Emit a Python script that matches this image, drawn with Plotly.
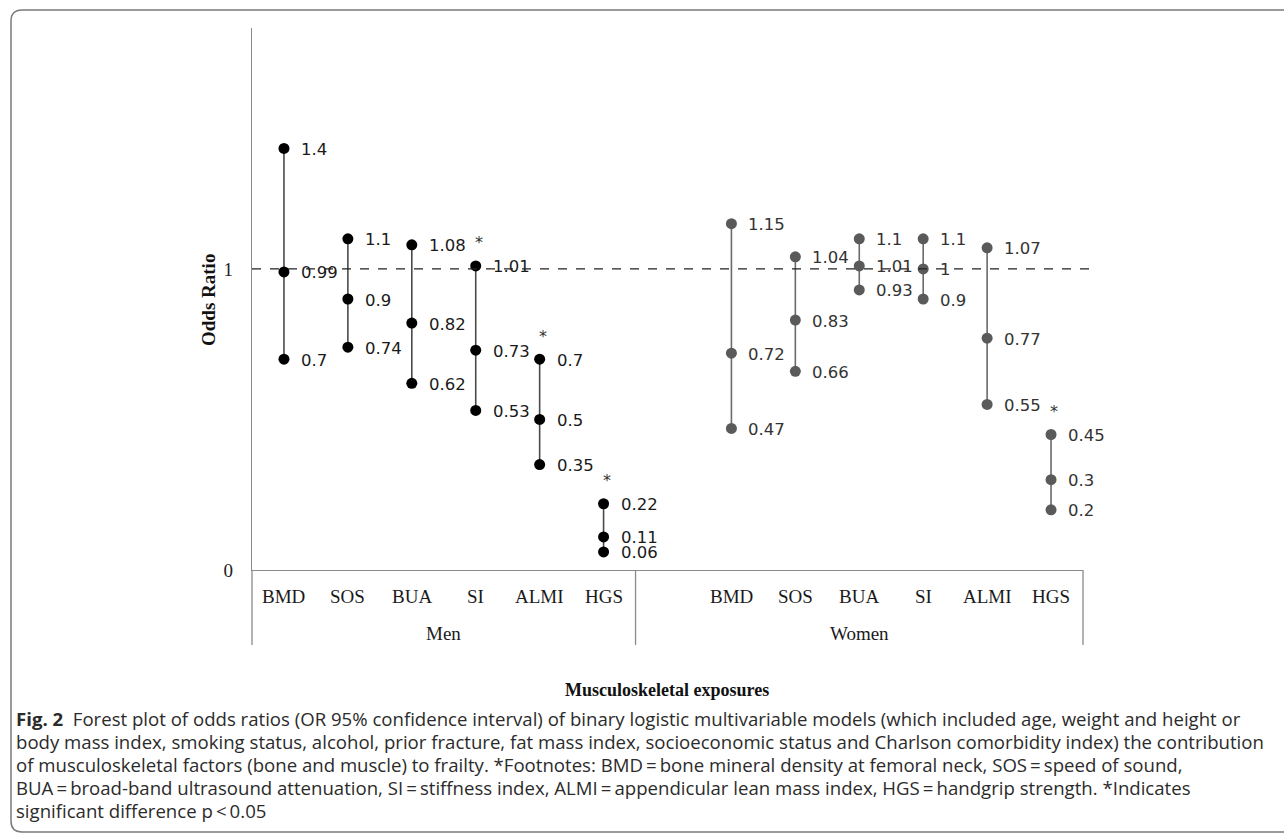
import plotly.graph_objects as go

# ---- data ----
categories = ["BMD", "SOS", "BUA", "SI", "ALMI", "HGS"]
groups = ["Men", "Women"]
men_upper = [1.4, 1.1, 1.08, 1.01, 0.7, 0.22]
men_or = [0.99, 0.9, 0.82, 0.73, 0.5, 0.11]
men_lower = [0.7, 0.74, 0.62, 0.53, 0.35, 0.06]
men_sig = [False, False, False, True, True, True]
women_upper = [1.15, 1.04, 1.1, 1.1, 1.07, 0.45]
women_or = [0.72, 0.83, 1.01, 1.0, 0.77, 0.3]
women_lower = [0.47, 0.66, 0.93, 0.9, 0.55, 0.2]
women_sig = [False, False, False, False, False, True]
y_ticks = [0, 1]
caption_lines = [
    "<b>Fig. 2</b>  Forest plot of odds ratios (OR 95% confidence interval) of binary logistic multivariable models (which included age, weight and height or",
    "body mass index, smoking status, alcohol, prior fracture, fat mass index, socioeconomic status and Charlson comorbidity index) the contribution",
    "of musculoskeletal factors (bone and muscle) to frailty. *Footnotes: BMD\u2009=\u2009bone mineral density at femoral neck, SOS\u2009=\u2009speed of sound,",
    "BUA\u2009=\u2009broad-band ultrasound attenuation, SI\u2009=\u2009stiffness index, ALMI\u2009=\u2009appendicular lean mass index, HGS\u2009=\u2009handgrip strength. *Indicates",
    "significant difference p\u2009<\u20090.05",
]

# ---- geometry ----
W, H = 1284, 833
L, R, T, B = 252, 1083, 28, 570
PW, PH = R - L, B - T


def px(x):
    return (x - L) / PW


def py(y):
    return (B - y) / PH


men_x = list(range(len(categories)))
women_x = [len(categories) + 1 + i for i in range(len(categories))]

fig = go.Figure()

groups_data = [
    (men_x, men_upper, men_or, men_lower, men_sig, "#000000", "#4a4a4a", "#1a1a1a"),
    (women_x, women_upper, women_or, women_lower, women_sig, "#5a5a5a", "#6a6a6a", "#333333"),
]

annotations = []
for xs, up, mid, lo, sig, mcol, lcol, tcol in groups_data:
    # vertical CI lines
    lx, ly = [], []
    for x, u, l in zip(xs, up, lo):
        lx += [x, x, None]
        ly += [u, l, None]
    fig.add_trace(go.Scatter(x=lx, y=ly, mode="lines",
                             line=dict(color=lcol, width=1.6),
                             hoverinfo="skip", showlegend=False))
    for vals in (up, mid, lo):
        fig.add_trace(go.Scatter(x=xs, y=vals, mode="markers",
                                 marker=dict(color=mcol, size=11),
                                 showlegend=False))
        for x, v in zip(xs, vals):
            annotations.append(dict(x=x, y=v, xref="x", yref="y",
                                    text=("%g" % v), showarrow=False,
                                    xanchor="left", yanchor="middle", xshift=16, yshift=-1,
                                    borderpad=0,
                                    font=dict(family="DejaVu Sans", size=16.5, color=tcol)))
    for x, u, s in zip(xs, up, sig):
        if s:
            annotations.append(dict(x=x, y=u, xref="x", yref="y", text="*",
                                    showarrow=False, xanchor="center", yanchor="middle",
                                    xshift=3, yshift=23,
                                    font=dict(family="DejaVu Sans", size=16, color="#333333")))

# category labels
for xs in (men_x, women_x):
    for x, c in zip(xs, categories):
        annotations.append(dict(x=x, y=py(596), xref="x", yref="paper", text=c,
                                showarrow=False, xanchor="center", yanchor="middle",
                                font=dict(family="Liberation Serif", size=19, color="#1a1a1a")))
# group labels
annotations.append(dict(x=(men_x[0] + men_x[-1]) / 2, y=py(633), xref="x", yref="paper",
                        text=groups[0], showarrow=False, xanchor="center", yanchor="middle",
                        font=dict(family="Liberation Serif", size=19, color="#1a1a1a")))
annotations.append(dict(x=(women_x[0] - 1 + women_x[-1]) / 2, y=py(633), xref="x", yref="paper",
                        text=groups[1], showarrow=False, xanchor="center", yanchor="middle",
                        font=dict(family="Liberation Serif", size=19, color="#1a1a1a")))
# axis titles
annotations.append(dict(x=px(667), y=py(690), xref="paper", yref="paper",
                        text="<b>Musculoskeletal exposures</b>", showarrow=False,
                        xanchor="center", yanchor="middle",
                        font=dict(family="Liberation Serif", size=18, color="#111111")))
annotations.append(dict(x=px(208), y=py(300), xref="paper", yref="paper",
                        text="<b>Odds Ratio</b>", showarrow=False, textangle=-90,
                        xanchor="center", yanchor="middle",
                        font=dict(family="Liberation Serif", size=19, color="#111111")))
# caption
for i, line in enumerate(caption_lines):
    annotations.append(dict(x=px(14), y=py(718 + 23 * i), xref="paper", yref="paper",
                            text=line, showarrow=False, xanchor="left", yanchor="middle",
                            font=dict(family="Open Sans", size=18.6, color="#2b2b2b")))

shapes = []
# reference dashed line at OR = 1
shapes.append(dict(type="line", xref="paper", yref="y", x0=0, x1=px(1090), y0=1, y1=1,
                   line=dict(color="#222222", width=1.3, dash="dash")))
# bracket lines under the category axis
sep_men = L + (len(categories)) * PW / (2 * len(categories) + 1)
for xp in (L, sep_men, R):
    shapes.append(dict(type="line", xref="paper", yref="paper", x0=px(xp), x1=px(xp),
                       y0=py(B), y1=py(645), line=dict(color="#8a8a8a", width=1.3)))
# outer frame
frame = "M %f,%f L %f,%f Q %f,%f %f,%f L %f,%f Q %f,%f %f,%f L %f,%f" % (
    px(1300), py(10), px(22), py(10), px(11), py(10), px(11), py(21),
    px(11), py(821), px(11), py(832), px(22), py(832), px(1300), py(832))
shapes.append(dict(type="path", xref="paper", yref="paper", path=frame,
                   line=dict(color="#7a7a7a", width=1.5)))

fig.update_layout(
    width=W, height=H,
    margin=dict(l=L, r=W - R, t=T, b=H - B, pad=0),
    paper_bgcolor="white", plot_bgcolor="white",
    showlegend=False,
    annotations=annotations, shapes=shapes,
    xaxis=dict(range=[-0.5, len(categories) * 2 + 0.5], showticklabels=False,
               showgrid=False, zeroline=False, showline=True,
               linecolor="#8a8a8a", linewidth=1.3, ticks=""),
    yaxis=dict(range=[0, 1.8], tickvals=y_ticks, showgrid=False, zeroline=False,
               showline=True, linecolor="#8a8a8a", linewidth=1.3, ticks="",
               ticklabelstandoff=14,
               tickfont=dict(family="Liberation Serif", size=19, color="#222222")),
)

fig.write_html("out.html", config={"displayModeBar": False},
               post_script="document.body.style.margin='0';document.body.style.overflow='hidden';")
